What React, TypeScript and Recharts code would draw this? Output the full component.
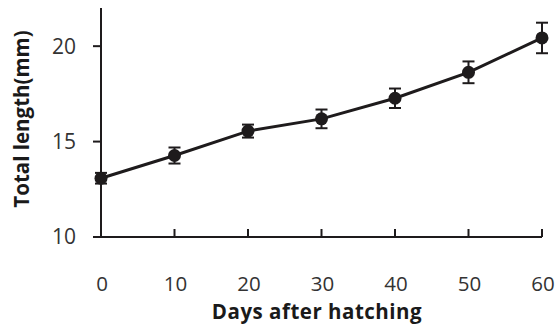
import { LineChart, Line, XAxis, YAxis, ErrorBar } from "recharts";

const days = [0, 10, 20, 30, 40, 50, 60];
const lengths = [13.08, 14.27, 15.55, 16.19, 17.27, 18.63, 20.43];
const errors = [0.28, 0.42, 0.34, 0.49, 0.51, 0.57, 0.8];
const yTicks = [10, 15, 20];

const data = days.map((d, i) => ({ day: d, len: lengths[i], err: errors[i] }));

const INK = "#1e1b1c";
const FONT = "'Open Sans', sans-serif";

// x ticks point up into the plot, labels sit well below the axis
function XTick(props: any) {
  const { x, y, payload } = props;
  return (
    <g>
      <line x1={x} y1={y} x2={x} y2={y - 8} stroke={INK} strokeWidth={2} />
      <text x={x + 1} y={y + 54} textAnchor="middle" fontSize={20.5} fill="#333" fontFamily={FONT}>
        {payload.value}
      </text>
    </g>
  );
}

export default function App() {
  return (
    <div style={{ width: 558, height: 326 }}>
      <style>{`body{margin:0}`}</style>
      <LineChart
        width={558}
        height={326}
        data={data}
        margin={{ top: 8, right: 16, left: 0, bottom: 0 }}
      >
        <XAxis
          dataKey="day"
          type="number"
          domain={[0, 60]}
          ticks={days}
          height={89}
          tickSize={0}
          tickMargin={0}
          tick={<XTick />}
          stroke={INK}
          strokeWidth={2}
          label={{
            content: () => (
              <text
                x={317}
                y={319}
                textAnchor="middle"
                fontFamily={FONT}
                fontWeight={700}
                fontSize={20.5}
                letterSpacing={0.5}
                fill="#1a1a1a"
              >
                Days after hatching
              </text>
            ),
          }}
        />
        <YAxis
          type="number"
          domain={[10, 22]}
          ticks={yTicks}
          width={101}
          tickSize={8}
          tickMargin={17}
          stroke={INK}
          strokeWidth={2}
          tick={{ fontSize: 21, fill: "#333", fontFamily: FONT }}
          label={{
            content: () => (
              <text
                x={0}
                y={0}
                transform="translate(29,119) rotate(-90)"
                textAnchor="middle"
                fontFamily={FONT}
                fontWeight={700}
                fontSize={20.5}
                fill="#1a1a1a"
              >
                Total length(mm)
              </text>
            ),
          }}
        />
        <Line
          dataKey="len"
          stroke={INK}
          strokeWidth={3}
          dot={{ r: 6.5, fill: INK, stroke: INK, strokeWidth: 0 }}
          isAnimationActive={false}
        >
          <ErrorBar dataKey="err" width={6} stroke={INK} strokeWidth={2} direction="y" />
        </Line>
      </LineChart>
    </div>
  );
}
